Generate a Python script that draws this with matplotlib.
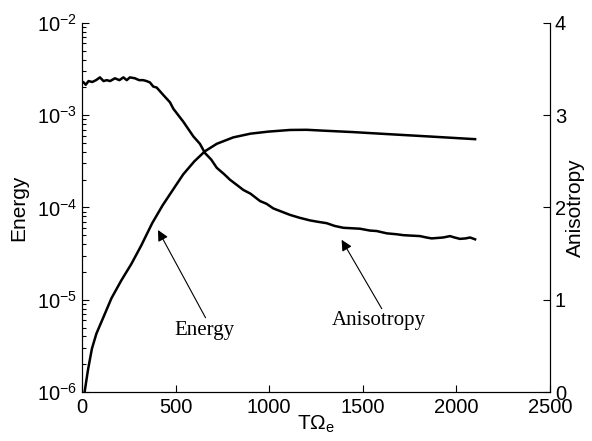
import matplotlib
matplotlib.use("Agg")
import matplotlib.pyplot as plt
from matplotlib.ticker import LogLocator, NullFormatter

plt.rcParams['font.family'] = ['Liberation Sans', 'DejaVu Sans']
plt.rcParams['mathtext.fontset'] = 'custom'
plt.rcParams['mathtext.rm'] = 'Liberation Sans'
plt.rcParams['mathtext.it'] = 'Liberation Sans:italic'

# ---- data ----
energy_t = [0, 14, 32, 53, 77, 112, 157, 210, 264, 317, 375, 430, 488, 541,
            600, 657, 720, 808, 900, 995, 1111, 1200, 1290, 1450, 1645, 1850,
            2100]
energy_v = [8.5e-7, 1.0e-6, 1.74e-6, 2.95e-6, 4.3e-6, 6.3e-6, 1.035e-5,
            1.62e-5, 2.45e-5, 3.89e-5, 6.76e-5, 1.05e-4, 1.58e-4, 2.29e-4,
            3.16e-4, 4.07e-4, 4.9e-4, 5.75e-4, 6.31e-4, 6.64e-4, 6.92e-4,
            6.95e-4, 6.8e-4, 6.56e-4, 6.22e-4, 5.89e-4, 5.5e-4]

aniso_t = [0, 7, 20, 35, 55, 75, 96, 115, 132, 150, 176, 200, 221, 239, 256,
           283, 305, 327, 345, 363, 381, 399, 434, 470, 488, 541, 595, 630,
           657, 690, 720, 760, 791, 830, 862, 900, 951, 986, 1022, 1060, 1111,
           1160, 1218, 1260, 1307, 1350, 1396, 1440, 1485, 1538, 1574, 1628,
           1680, 1717, 1760, 1806, 1840, 1868, 1900, 1930, 1966, 1990, 2019,
           2050, 2073, 2100]
aniso_v = [3.35, 3.36, 3.33, 3.37, 3.36, 3.38, 3.41, 3.37, 3.38, 3.37, 3.40,
           3.38, 3.41, 3.38, 3.41, 3.40, 3.38, 3.38, 3.37, 3.355, 3.31, 3.30,
           3.22, 3.14, 3.07, 2.93, 2.77, 2.69, 2.59, 2.52, 2.43, 2.36, 2.30,
           2.24, 2.19, 2.15, 2.07, 2.04, 1.99, 1.96, 1.92, 1.89, 1.86, 1.845,
           1.83, 1.80, 1.78, 1.775, 1.77, 1.75, 1.745, 1.72, 1.71, 1.70, 1.695,
           1.69, 1.675, 1.665, 1.67, 1.675, 1.69, 1.675, 1.66, 1.665, 1.675,
           1.655]

x_ticks = [0, 500, 1000, 1500, 2000, 2500]
right_ticks = [0, 1, 2, 3, 4]

fig = plt.figure(figsize=(5.92, 4.41), dpi=100)
ax = fig.add_axes([0.1385, 0.111, 0.7905, 0.837])
ax2 = ax.twinx()

ax.semilogy(energy_t, energy_v, color='black', lw=1.8)
ax2.plot(aniso_t, aniso_v, color='black', lw=1.8)

ax.set_xlim(0, 2500)
ax.set_ylim(1e-6, 1e-2)
ax2.set_ylim(0, 4)
ax.set_xticks(x_ticks)
ax2.set_yticks(right_ticks)
ax.yaxis.set_major_locator(LogLocator(base=10, numticks=10))
ax.yaxis.set_minor_locator(LogLocator(base=10, subs=range(2, 10), numticks=20))
ax.yaxis.set_minor_formatter(NullFormatter())

for a in (ax, ax2):
    a.spines['top'].set_visible(False)
    a.tick_params(which='both', direction='in', labelsize=14.5, width=0.8)
    a.tick_params(which='major', length=5)
    a.tick_params(which='minor', length=3)
ax.tick_params(axis='x', pad=4)

ax.set_ylabel('Energy', fontsize=15, labelpad=6)
ax2.set_ylabel('Anisotropy', fontsize=15, labelpad=0)
ax.set_xlabel(r'T$\Omega_\mathrm{e}$', fontsize=15, labelpad=-2)

arrow = dict(arrowstyle='-|>', color='black', lw=0.8, mutation_scale=16,
             shrinkA=0, shrinkB=0)
ax.annotate('Energy', xy=(406, 5.7e-5), xytext=(652, 4.7e-6),
            fontsize=15, family='Liberation Serif', ha='center', va='center',
            arrowprops=dict(arrow, relpos=(0.55, 1.0)))
ax2.annotate('Anisotropy', xy=(1387, 1.65), xytext=(1585, 0.77),
             fontsize=15, family='Liberation Serif', ha='center', va='center',
             arrowprops=dict(arrow, relpos=(0.55, 1.0)))

fig.savefig('out.png', dpi=100)
